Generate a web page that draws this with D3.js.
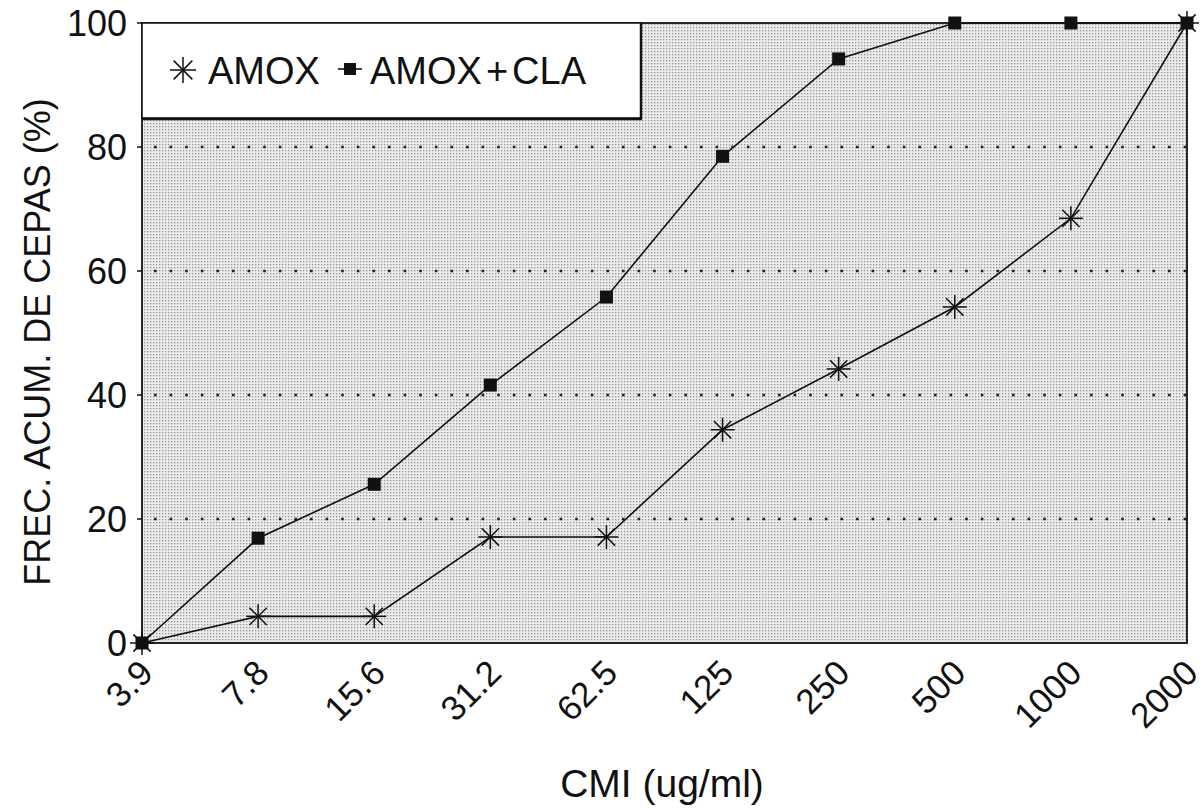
<!DOCTYPE html>
<html>
<head>
<meta charset="utf-8">
<script src="https://cdn.jsdelivr.net/npm/d3@7"></script>
<style>
  body { margin: 0; background: #fff; }
  text { font-family: "Liberation Sans", Arial, sans-serif; fill: #111; }
</style>
</head>
<body>
<script>
// categories on the x axis (CMI, ug/ml)
var cmi = ["3.9", "7.8", "15.6", "31.2", "62.5", "125", "250", "500", "1000", "2000"]
// cumulative % of strains
var amox = [0, 4.3, 4.3, 17.1, 17.1, 34.4, 44.2, 54.2, 68.5, 100]
var amoxCla = [0, 16.9, 25.6, 41.6, 55.8, 78.5, 94.2, 100, 100, 100]
var yTicks = [0, 20, 40, 60, 80, 100]
var gridTicks = [20, 40, 60, 80]

var W = 1204, H = 811
var pL = 142, pR = 1187, pT = 23, pB = 643

var svg = d3.select("body").append("svg").attr("width", W).attr("height", H)

var x = d3.scalePoint().domain(cmi).range([pL, pR])
var y = d3.scaleLinear().domain([0, 100]).range([pB, pT])

// dotted grey fill like the printed screen
var defs = svg.append("defs")
var pat = defs.append("pattern").attr("id", "dots")
  .attr("width", 3).attr("height", 3).attr("patternUnits", "userSpaceOnUse")
pat.append("rect").attr("width", 3).attr("height", 3).attr("fill", "#ebebeb")
pat.append("rect").attr("width", 1.3).attr("height", 1.3).attr("fill", "#969696")

svg.append("rect")
  .attr("x", pL).attr("y", pT)
  .attr("width", pR - pL).attr("height", pB - pT)
  .attr("fill", "url(#dots)")

// dotted grid lines
svg.selectAll(".grid").data(gridTicks).enter().append("line")
  .attr("x1", pL + 12).attr("x2", pR)
  .attr("y1", function(d){ return y(d) }).attr("y2", function(d){ return y(d) })
  .attr("stroke", "#222").attr("stroke-width", 2.6)
  .attr("stroke-dasharray", "2.6,13")

// frame
svg.append("rect")
  .attr("x", pL).attr("y", pT)
  .attr("width", pR - pL).attr("height", pB - pT)
  .attr("fill", "none").attr("stroke", "#111").attr("stroke-width", 1.8)

// y axis labels + small ticks
svg.selectAll(".ytick").data(yTicks).enter().append("line")
  .attr("x1", pL - 5).attr("x2", pL)
  .attr("y1", function(d){ return y(d) }).attr("y2", function(d){ return y(d) })
  .attr("stroke", "#111").attr("stroke-width", 1.5)
svg.selectAll(".ylab").data(yTicks).enter().append("text")
  .attr("x", pL - 15).attr("y", function(d){ return y(d) })
  .attr("dy", "0.36em").attr("text-anchor", "end")
  .attr("font-size", 36)
  .text(function(d){ return d })

// x axis labels, rotated
svg.selectAll(".xlab").data(cmi).enter().append("text")
  .attr("transform", function(d){ return "translate(" + (x(d) + 13) + "," + (pB + 32) + ") rotate(-45)" })
  .attr("text-anchor", "end")
  .attr("font-size", 35)
  .text(function(d){ return d })

// axis titles
svg.append("text")
  .attr("x", 662).attr("y", 797)
  .attr("text-anchor", "middle").attr("font-size", 39)
  .text("CMI (ug/ml)")
svg.append("text")
  .attr("transform", "translate(50," + 342 + ") rotate(-90)")
  .attr("text-anchor", "middle").attr("font-size", 36)
  .text("FREC. ACUM. DE CEPAS (%)")

var line = d3.line()
  .x(function(d, i){ return x(cmi[i]) })
  .y(function(d){ return y(d) })

svg.append("path").datum(amox).attr("d", line)
  .attr("fill", "none").attr("stroke", "#111").attr("stroke-width", 1.6)
svg.append("path").datum(amoxCla).attr("d", line)
  .attr("fill", "none").attr("stroke", "#111").attr("stroke-width", 1.6)

function star(g, cx, cy, r) {
  var arms = [[0, r], [r, 0], [r * 0.72, r * 0.72], [r * 0.72, -r * 0.72]]
  arms.forEach(function(a){
    g.append("line")
      .attr("x1", cx - a[0]).attr("y1", cy - a[1])
      .attr("x2", cx + a[0]).attr("y2", cy + a[1])
      .attr("stroke", "#111").attr("stroke-width", 1.5)
  })
}

var starG = svg.append("g")
amox.forEach(function(d, i){ star(starG, x(cmi[i]), y(d), 12) })

svg.selectAll(".sq").data(amoxCla).enter().append("rect")
  .attr("x", function(d, i){ return x(cmi[i]) - 6.5 })
  .attr("y", function(d){ return y(d) - 6.5 })
  .attr("width", 13).attr("height", 13)
  .attr("fill", "#111")

// legend box
var lg = svg.append("g")
lg.append("rect")
  .attr("x", pL).attr("y", pT)
  .attr("width", 499).attr("height", 95)
  .attr("fill", "#fff").attr("stroke", "#111").attr("stroke-width", 1.5)
lg.append("line").attr("x1", pL + 499).attr("x2", pL + 499)
  .attr("y1", pT).attr("y2", pT + 96).attr("stroke", "#111").attr("stroke-width", 2.5)
lg.append("line").attr("x1", pL).attr("x2", pL + 500)
  .attr("y1", pT + 96).attr("y2", pT + 96).attr("stroke", "#111").attr("stroke-width", 2.5)

star(lg, 183, 70, 13)
lg.append("text").attr("x", 208).attr("y", 84).attr("font-size", 38).text("AMOX")
lg.append("line").attr("x1", 338).attr("x2", 362).attr("y1", 69).attr("y2", 69)
  .attr("stroke", "#111").attr("stroke-width", 1.6)
lg.append("rect").attr("x", 344).attr("y", 63).attr("width", 12).attr("height", 12).attr("fill", "#111")
var t2 = lg.append("text").attr("x", 370).attr("y", 84).attr("font-size", 38)
t2.append("tspan").text("AMOX")
t2.append("tspan").attr("dx", 4).text("+")
t2.append("tspan").attr("dx", 4).text("CLA")
</script>
</body>
</html>
